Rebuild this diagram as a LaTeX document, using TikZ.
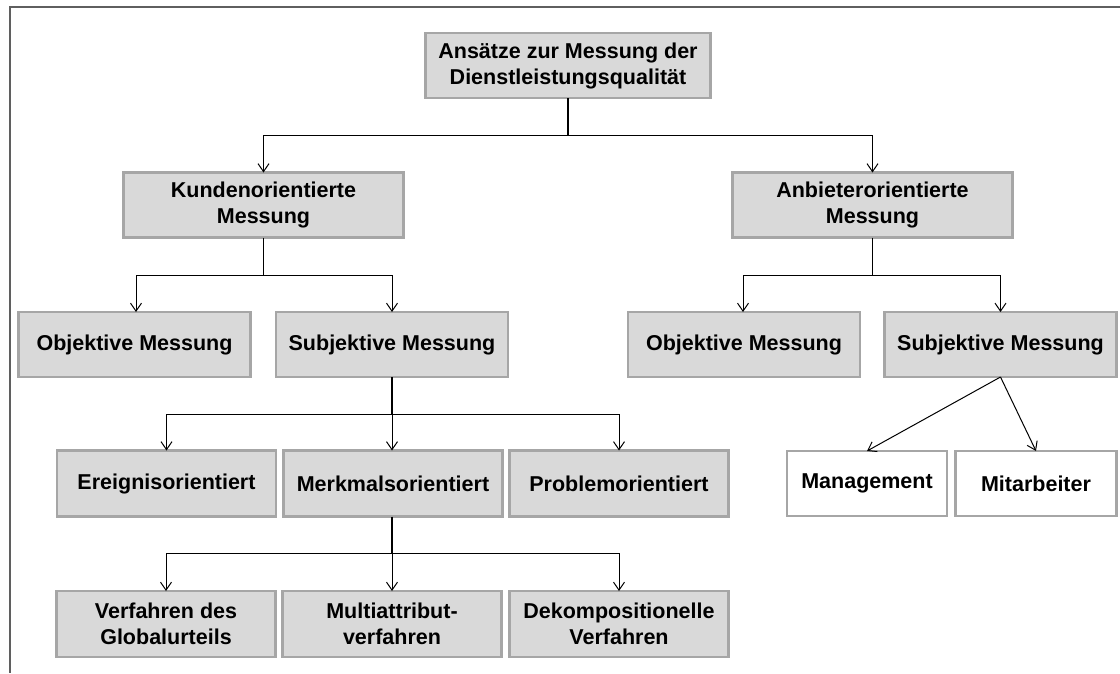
\documentclass[tikz,border=0pt]{standalone}
\usepackage{fontspec}
\setmainfont{Liberation Sans}
\usetikzlibrary{arrows.meta}
\definecolor{boxfill}{HTML}{D9D9D9}
\definecolor{boxline}{HTML}{A6A6A6}
\definecolor{framegray}{HTML}{5F5F5F}
\begin{document}
\begin{tikzpicture}[x=1pt,y=-1pt,
  box/.style={draw=boxline, line width=2.6pt, fill=boxfill, align=center,
    inner sep=0pt, outer sep=0pt,
    font=\fontsize{21.5}{26}\selectfont\bfseries},
  wbox/.style={box, fill=white},
  stem/.style={draw=black, line width=1.2pt},
  arr/.style={draw=black, line width=1pt, -{Straight Barb[length=8pt,width=11pt]}}
]
\useasboundingbox (0,0) rectangle (1120,673);
% outer frame (top and left edges)
\draw[framegray, line width=2pt] (1120,7) -- (10,7) -- (10,673);

% level 0
\node[box, minimum width=285, minimum height=65] (top) at (568,65.5)
  {Ansätze zur Messung der\\Dienstleistungsqualität};
% level 1
\node[box, minimum width=280, minimum height=65] (kunden) at (263.5,205)
  {Kundenorientierte\\Messung};
\node[box, minimum width=280, minimum height=65] (anbieter) at (872.5,205)
  {Anbieterorientierte\\Messung};
% level 2
\node[box, minimum width=232, minimum height=65] (objk) at (134.5,344.5) {Objektive Messung};
\node[box, minimum width=232, minimum height=65] (subk) at (392,344.5) {Subjektive Messung};
\node[box, minimum width=232, minimum height=65] (obja) at (744,344.5) {Objektive Messung};
\node[box, minimum width=232, minimum height=65] (suba) at (1000.5,344.5) {Subjektive Messung};
% level 3
\node[box, minimum width=219, minimum height=66] (ereig) at (166.5,483.5) {Ereignisorientiert};
\node[box, minimum width=219, minimum height=66] (merk) at (393,483.5) {Merkmalsorientiert};
\node[box, minimum width=219, minimum height=66] (probl) at (619,483.5) {Problemorientiert};
\node[wbox, minimum width=160, minimum height=65] (mgmt) at (867,483.5) {Management};
\node[wbox, minimum width=161, minimum height=65] (mitarb) at (1036,483.5) {Mitarbeiter};
% level 4
\node[box, minimum width=219, minimum height=66] (global) at (166,624) {Verfahren des\\Globalurteils};
\node[box, minimum width=219, minimum height=66] (multi) at (392,624) {Multiattribut-\\verfahren};
\node[box, minimum width=219, minimum height=66] (dekomp) at (619,624) {Dekompositionelle\\Verfahren};

% bus points
\coordinate (b0) at (568,135);
\coordinate (b1) at (263.5,275);
\coordinate (b2) at (872.5,275);
\coordinate (b3) at (392,414);
\coordinate (b4) at (392,553);

% connectors
\draw[stem] (top.south) -- (b0);
\draw[arr] (b0) -| (kunden.north);
\draw[arr] (b0) -| (anbieter.north);

\draw[stem] (kunden.south) -- (b1);
\draw[arr] (b1) -| ([xshift=1.5pt]objk.north);
\draw[arr] (b1) -| (subk.north);

\draw[stem] (anbieter.south) -- (b2);
\draw[arr] (b2) -| ([xshift=-1pt]obja.north);
\draw[arr] (b2) -| (suba.north);

\draw[stem] (subk.south) -- (b3);
\draw[arr] (b3) -| (ereig.north);
\draw[arr] (b3) -- (subk.south |- merk.north);
\draw[arr] (b3) -| (probl.north);

\draw[stem] (merk.south -| b4) -- (b4);
\draw[arr] (b4) -| (global.north);
\draw[arr] (b4) -- (multi.north);
\draw[arr] (b4) -| (dekomp.north);

\draw[arr] (suba.south) -- (mgmt.north);
\draw[arr] (suba.south) -- (mitarb.north);
\end{tikzpicture}
\end{document}
